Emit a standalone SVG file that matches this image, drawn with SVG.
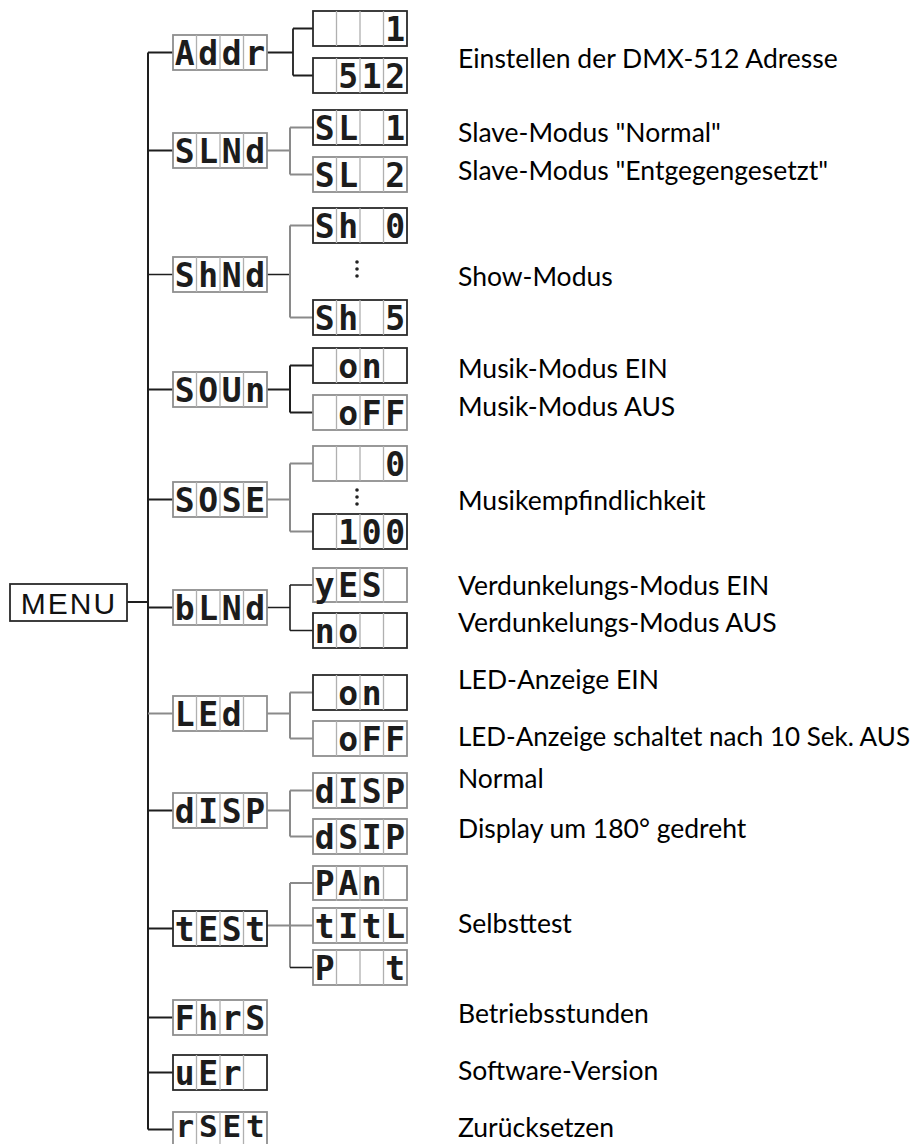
<svg xmlns="http://www.w3.org/2000/svg" xmlns:xlink="http://www.w3.org/1999/xlink" width="920" height="1144" viewBox="0 0 920 1144">
<style>
.bg{fill:#fff}
.bk{fill:#fff;stroke:#2a2a2a;stroke-width:1.8}
.bg2{fill:#fff;stroke:#8e8e8e;stroke-width:1.8}
.seg{font-family:"DejaVu Sans Mono",monospace;font-size:33px;font-weight:bold;fill:#1c1c1c;text-anchor:middle}
.lbl{font-family:Lato,"Liberation Sans",sans-serif;font-size:26.5px;fill:#000}
.menu{font-family:"Liberation Sans",Arial,sans-serif;font-size:30px;fill:#111;text-anchor:middle;letter-spacing:2px}
.lk{fill:none;stroke:#1e1e1e;stroke-width:2}
.lg{fill:none;stroke:#8a8a8a;stroke-width:2}
.dot{fill:#222}
</style>
<defs>
<path id="div" d="M23.5 0V35M47 0V35M70.5 0V35" fill="none" stroke="#b0b0b0" stroke-width="1.3"/>
</defs>
<rect class="bg" x="0" y="0" width="920" height="1144"/>

<g id="connectors">
<path class="lk" d="M148 52.5V1129.5"/>
<path class="lk" d="M127 602H148"/>
<path class="lk" d="M148 52.5H173M148 150.5H173M148 389.5H173M148 499.5H173M148 607.5H173M148 810.5H173M148 928.5H173M148 1017.5H173M148 1072.5H173M148 1129.5H173"/>
<path class="lk" d="M148 274.5H173" style="stroke-width:1.5"/>
<path class="lg" d="M148 713.5H173"/>
<path class="lk" d="M267 52.5H293M293 28.5V75.5M293 28.5H313M293 75.5H313" style="stroke-width:1.8"/>
<path class="lg" d="M267 150.5H290M290 127.5V174.5M290 127.5H313M290 174.5H313"/>
<path class="lk" d="M267 274.5H290" style="stroke-width:1.5"/>
<path class="lg" d="M290 225.5V317.5M290 225.5H313M290 317.5H313"/>
<path class="lk" d="M267 389.5H290M290 365.5V412.5M290 365.5H313M290 412.5H313"/>
<path class="lg" d="M267 499.5H290M290 463.5V531.5M290 463.5H313M290 531.5H313"/>
<path class="lk" d="M267 607.5H290M290 585V630.5M290 585H313M290 630.5H313" style="stroke-width:1.6"/>
<path class="lg" d="M267 713.5H290M290 692.5V738.5M290 692.5H313M290 738.5H313"/>
<path class="lg" d="M267 810.5H290M290 790.5V836.5M290 790.5H313M290 836.5H313"/>
<path class="lg" d="M267 925.5H313M290 883V967.5M290 883H313"/>
<path class="lk" d="M290 967.5H313" style="stroke-width:1.6"/>
</g>

<g id="menu">
<rect class="bk" x="10" y="584" width="117" height="37"/>
<text class="menu" x="69" y="614">MENU</text>
</g>

<g id="addr">
<rect class="bg2" x="173" y="35" width="94" height="35"/><use xlink:href="#div" x="173" y="35"/>
<text class="seg" x="184.75 208.25 231.75 255.25" y="65">Addr</text>
</g>
<g id="addr-1">
<rect class="bk" x="313" y="11" width="94" height="35"/><use xlink:href="#div" x="313" y="11"/>
<text class="seg" x="395.25" y="41">1</text>
</g>
<g id="addr-512">
<rect class="bk" x="313" y="58" width="94" height="35"/><use xlink:href="#div" x="313" y="58"/>
<text class="seg" x="348.25 371.75 395.25" y="88">512</text>
</g>

<g id="slnd">
<rect class="bg2" x="173" y="133" width="94" height="35"/><use xlink:href="#div" x="173" y="133"/>
<text class="seg" x="184.75 208.25 231.75 255.25" y="163">SLNd</text>
</g>
<g id="sl1">
<rect class="bk" x="313" y="110" width="94" height="35"/><use xlink:href="#div" x="313" y="110"/>
<text class="seg" x="324.75 348.25 395.25" y="140">SL1</text>
</g>
<g id="sl2">
<rect class="bg2" x="313" y="157" width="94" height="35"/><use xlink:href="#div" x="313" y="157"/>
<text class="seg" x="324.75 348.25 395.25" y="187">SL2</text>
</g>

<g id="shnd">
<rect class="bg2" x="173" y="257" width="94" height="35"/><use xlink:href="#div" x="173" y="257"/>
<text class="seg" x="184.75 208.25 231.75 255.25" y="287">ShNd</text>
</g>
<g id="sh0">
<rect class="bk" x="313" y="208" width="94" height="35"/><use xlink:href="#div" x="313" y="208"/>
<text class="seg" x="324.75 348.25 395.25" y="238">Sh0</text>
</g>
<g id="sh-dots">
<circle class="dot" cx="357" cy="262" r="1.8"/><circle class="dot" cx="357" cy="269" r="1.8"/><circle class="dot" cx="357" cy="276" r="1.8"/>
</g>
<g id="sh5">
<rect class="bk" x="313" y="300" width="94" height="35"/><use xlink:href="#div" x="313" y="300"/>
<text class="seg" x="324.75 348.25 395.25" y="330">Sh5</text>
</g>

<g id="soun">
<rect class="bg2" x="173" y="372" width="94" height="35"/><use xlink:href="#div" x="173" y="372"/>
<text class="seg" x="184.75 208.25 231.75 255.25" y="402">SOUn</text>
</g>
<g id="soun-on">
<rect class="bk" x="313" y="348" width="94" height="35"/><use xlink:href="#div" x="313" y="348"/>
<text class="seg" x="348.25 371.75" y="378">on</text>
</g>
<g id="soun-off">
<rect class="bg2" x="313" y="395" width="94" height="35"/><use xlink:href="#div" x="313" y="395"/>
<text class="seg" x="348.25 371.75 395.25" y="425">oFF</text>
</g>

<g id="sose">
<rect class="bg2" x="173" y="482" width="94" height="35"/><use xlink:href="#div" x="173" y="482"/>
<text class="seg" x="184.75 208.25 231.75 255.25" y="512">SOSE</text>
</g>
<g id="sose-0">
<rect class="bg2" x="313" y="446" width="94" height="35"/><use xlink:href="#div" x="313" y="446"/>
<text class="seg" x="395.25" y="476">0</text>
</g>
<g id="sose-dots">
<circle class="dot" cx="357" cy="490" r="1.8"/><circle class="dot" cx="357" cy="497" r="1.8"/><circle class="dot" cx="357" cy="504" r="1.8"/>
</g>
<g id="sose-100">
<rect class="bk" x="313" y="514" width="94" height="35"/><use xlink:href="#div" x="313" y="514"/>
<text class="seg" x="348.25 371.75 395.25" y="544">100</text>
</g>

<g id="blnd">
<rect class="bg2" x="173" y="590" width="94" height="35"/><use xlink:href="#div" x="173" y="590"/>
<text class="seg" x="184.75 208.25 231.75 255.25" y="620">bLNd</text>
</g>
<g id="blnd-yes">
<rect class="bg2" x="313" y="568" width="94" height="34"/><use xlink:href="#div" x="313" y="568"/>
<text class="seg" x="324.75 348.25 371.75" y="597">yES</text>
</g>
<g id="blnd-no">
<rect class="bk" x="313" y="613" width="94" height="35"/><use xlink:href="#div" x="313" y="613"/>
<text class="seg" x="324.75 348.25" y="643">no</text>
</g>

<g id="led">
<rect class="bg2" x="173" y="696" width="94" height="35"/><use xlink:href="#div" x="173" y="696"/>
<text class="seg" x="184.75 208.25 231.75" y="726">LEd</text>
</g>
<g id="led-on">
<rect class="bk" x="313" y="675" width="94" height="35"/><use xlink:href="#div" x="313" y="675"/>
<text class="seg" x="348.25 371.75" y="705">on</text>
</g>
<g id="led-off">
<rect class="bg2" x="313" y="721" width="94" height="35"/><use xlink:href="#div" x="313" y="721"/>
<text class="seg" x="348.25 371.75 395.25" y="751">oFF</text>
</g>

<g id="disp">
<rect class="bg2" x="173" y="793" width="94" height="35"/><use xlink:href="#div" x="173" y="793"/>
<text class="seg" x="184.75 208.25 231.75 255.25" y="823">dISP</text>
</g>
<g id="disp-normal">
<rect class="bg2" x="313" y="773" width="94" height="35"/><use xlink:href="#div" x="313" y="773"/>
<text class="seg" x="324.75 348.25 371.75 395.25" y="803">dISP</text>
</g>
<g id="disp-rot">
<rect class="bg2" x="313" y="819" width="94" height="35"/><use xlink:href="#div" x="313" y="819"/>
<text class="seg" x="324.75 348.25 371.75 395.25" y="849">dSIP</text>
</g>

<g id="test">
<rect class="bk" x="173" y="911" width="94" height="35"/><use xlink:href="#div" x="173" y="911"/>
<text class="seg" x="184.75 208.25 231.75 255.25" y="941">tESt</text>
</g>
<g id="test-pan">
<rect class="bg2" x="313" y="866" width="94" height="34"/><use xlink:href="#div" x="313" y="866"/>
<text class="seg" x="324.75 348.25 371.75" y="895">PAn</text>
</g>
<g id="test-tilt">
<rect class="bg2" x="313" y="908" width="94" height="35"/><use xlink:href="#div" x="313" y="908"/>
<text class="seg" x="324.75 348.25 371.75 395.25" y="938">tItL</text>
</g>
<g id="test-pt">
<rect class="bg2" x="313" y="950" width="94" height="35"/><use xlink:href="#div" x="313" y="950"/>
<text class="seg" x="324.75 395.25" y="980">Pt</text>
</g>

<g id="fhrs">
<rect class="bg2" x="173" y="1000" width="94" height="35"/><use xlink:href="#div" x="173" y="1000"/>
<text class="seg" x="184.75 208.25 231.75 255.25" y="1030">FhrS</text>
</g>
<g id="uer">
<rect class="bk" x="173" y="1055" width="94" height="35"/><use xlink:href="#div" x="173" y="1055"/>
<text class="seg" x="184.75 208.25 231.75" y="1085">uEr</text>
</g>
<g id="rset">
<rect class="bg2" x="173" y="1112" width="94" height="35"/><use xlink:href="#div" x="173" y="1112"/>
<text class="seg" x="184.75 208.25 231.75 255.25" y="1137" style="font-size:31px">rSEt</text>
</g>

<g id="labels">
<text class="lbl" x="458" y="68">Einstellen der DMX-512 Adresse</text>
<text class="lbl" x="458" y="142">Slave-Modus "Normal"</text>
<text class="lbl" x="458" y="180">Slave-Modus "Entgegengesetzt"</text>
<text class="lbl" x="458" y="286">Show-Modus</text>
<text class="lbl" x="458" y="378">Musik-Modus EIN</text>
<text class="lbl" x="458" y="416">Musik-Modus AUS</text>
<text class="lbl" x="458" y="510">Musikempfindlichkeit</text>
<text class="lbl" x="458" y="595">Verdunkelungs-Modus EIN</text>
<text class="lbl" x="458" y="632">Verdunkelungs-Modus AUS</text>
<text class="lbl" x="458" y="689">LED-Anzeige EIN</text>
<text class="lbl" x="458" y="746" textLength="452" lengthAdjust="spacingAndGlyphs">LED-Anzeige schaltet nach 10 Sek. AUS</text>
<text class="lbl" x="458" y="788">Normal</text>
<text class="lbl" x="458" y="838">Display um 180° gedreht</text>
<text class="lbl" x="458" y="933">Selbsttest</text>
<text class="lbl" x="458" y="1023">Betriebsstunden</text>
<text class="lbl" x="458" y="1080">Software-Version</text>
<text class="lbl" x="458" y="1137">Zurücksetzen</text>
</g>
</svg>
